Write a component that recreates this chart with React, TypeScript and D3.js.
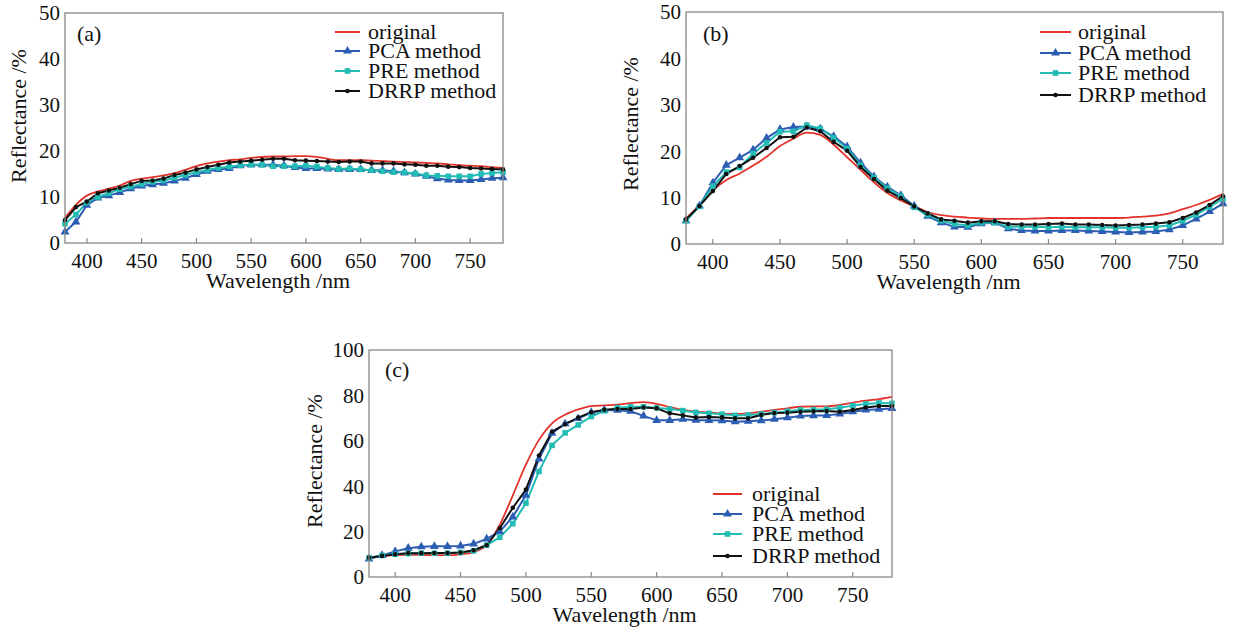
import React, { useEffect, useRef } from "react";
import * as d3 from "d3";

// wavelength samples (nm)
const wavelengths = [
  380, 390, 400, 410, 420, 430, 440, 450, 460, 470, 480, 490, 500, 510, 520,
  530, 540, 550, 560, 570, 580, 590, 600, 610, 620, 630, 640, 650, 660, 670,
  680, 690, 700, 710, 720, 730, 740, 750, 760, 770, 780,
];

const xTicks = [400, 450, 500, 550, 600, 650, 700, 750];
const yTicksSmall = [0, 10, 20, 30, 40, 50];
const yTicksLarge = [0, 20, 40, 60, 80, 100];

const seriesNames = ["original", "PCA method", "PRE method", "DRRP method"];

// panel (a)
const aOriginal = [
  5.5, 8.3, 10.3, 11.2, 11.8, 12.5, 13.5, 14.0, 14.3, 14.7, 15.2, 15.9, 16.7,
  17.3, 17.7, 18.0, 18.2, 18.5, 18.7, 18.8, 18.8, 18.9, 18.9, 18.7, 18.3, 18.0,
  18.0, 18.0, 17.9, 17.8, 17.7, 17.6, 17.5, 17.4, 17.3, 17.1, 16.9, 16.8, 16.7,
  16.5, 16.3,
];
const aPCA = [
  2.4, 4.6, 8.2, 9.8, 10.3, 11.0, 11.8, 12.4, 12.7, 13.0, 13.5, 14.1, 14.9,
  15.6, 16.0, 16.2, 16.8, 17.0, 17.0, 17.0, 16.8, 16.4, 16.2, 16.2, 16.1, 16.0,
  16.0, 16.0, 15.8, 15.8, 15.6, 15.3, 15.0, 14.5, 14.0, 13.7, 13.6, 13.6, 13.8,
  14.1, 14.2,
];
const aPRE = [
  4.2, 6.2, 8.8, 10.0, 10.8, 11.7, 12.3, 12.8, 13.3, 13.6, 14.2, 14.8, 15.4,
  15.9, 16.3, 16.6, 16.9, 17.0, 17.0, 16.7, 16.7, 16.7, 16.8, 16.6, 16.3, 16.1,
  16.2, 16.0, 15.8, 15.6, 15.4, 15.3, 15.1, 14.7, 14.6, 14.5, 14.5, 14.5, 15.0,
  15.2, 15.4,
];
const aDRRP = [
  5.0, 7.8, 9.0, 10.8, 11.4, 12.0, 12.8, 13.5, 13.6, 14.0, 14.8, 15.3, 16.0,
  16.5, 17.0, 17.5, 17.7, 17.9, 18.1, 18.3, 18.3, 18.0, 17.9, 17.8, 17.7, 17.6,
  17.7, 17.7, 17.3, 17.3, 17.3, 17.1, 17.0, 16.8, 16.8, 16.6, 16.5, 16.3, 16.2,
  16.1, 16.0,
];

// panel (b)
const bOriginal = [
  5.5, 8.3, 11.5, 13.8, 15.2, 16.9, 18.8, 21.1, 22.7, 24.0, 23.5, 21.4, 18.7,
  16.0, 13.3, 11.0, 9.4, 8.1, 6.9, 6.2, 5.9, 5.7, 5.5, 5.4, 5.4, 5.4, 5.5, 5.6,
  5.6, 5.6, 5.6, 5.6, 5.6, 5.7, 5.9, 6.1, 6.6, 7.5, 8.4, 9.5, 10.8,
];
const bPCA = [
  5.0, 8.2, 13.2, 17.0, 18.6, 20.3, 22.8, 24.7, 25.2, 25.3, 24.8, 23.2, 21.0,
  17.5, 14.5, 12.3, 10.5, 8.2, 6.0, 4.6, 3.7, 3.6, 4.4, 4.6, 3.3, 2.9, 2.8, 2.8,
  2.9, 2.9, 2.8, 2.7, 2.6, 2.5, 2.6, 2.7, 3.1, 4.0, 5.4, 7.0, 8.7,
];
const bPRE = [
  5.0, 8.1, 12.5, 15.5, 16.5, 19.5, 21.8, 24.2, 24.3, 25.6, 24.9, 22.9, 20.6,
  17.0, 14.3, 12.0, 10.3, 7.9, 6.3, 5.0, 4.3, 4.0, 4.6, 4.6, 3.7, 3.7, 3.7, 3.6,
  3.7, 3.6, 3.6, 3.6, 3.5, 3.5, 3.6, 3.7, 4.0, 5.0, 6.3, 8.0, 9.7,
];
const bDRRP = [
  5.3, 8.2, 11.4, 15.1, 16.8, 18.6, 20.7, 23.0, 23.1, 25.1, 24.3, 22.0, 20.1,
  16.6, 14.0, 11.5, 9.9, 8.1, 6.6, 5.3, 5.0, 4.6, 4.9, 4.9, 4.3, 4.2, 4.2, 4.3,
  4.4, 4.2, 4.2, 4.1, 4.0, 4.1, 4.2, 4.4, 4.7, 5.6, 6.8, 8.4, 10.3,
];

// panel (c)
const cOriginal = [
  8.5, 9.2, 9.7, 9.8, 9.8, 9.6, 9.6, 10.0, 11.0, 14.0, 23.0, 36.0, 49.5, 60.4,
  67.7, 71.5, 73.8, 75.3, 75.6, 75.9, 76.6, 77.0, 76.3, 74.8, 73.6, 72.8, 72.5,
  72.0, 71.8, 72.1, 72.8, 73.6, 74.3, 75.0, 75.2, 75.2, 75.8, 76.8, 77.7, 78.4,
  79.4,
];
const cPCA = [
  8.0, 9.5, 11.3, 12.7, 13.3, 13.5, 13.5, 13.7, 14.6, 16.8, 20.0, 26.5, 36.0,
  52.0, 63.3, 67.5, 69.8, 72.5, 73.5, 73.5, 73.0, 71.0, 69.0, 69.0, 69.5, 69.1,
  69.0, 68.9, 68.4, 68.6, 68.9, 69.5, 70.2, 70.9, 71.1, 71.2, 71.8, 72.8, 73.6,
  73.9, 74.2,
];
const cPRE = [
  8.5, 9.5, 10.0, 10.3, 10.5, 10.5, 10.5, 10.8, 11.5, 14.0, 17.5, 23.5, 32.5,
  46.5, 58.0, 63.5, 67.0, 70.7, 73.2, 74.6, 75.0, 75.0, 74.5, 74.0, 73.3, 72.5,
  72.1, 71.7, 71.2, 71.4, 71.8, 72.4, 73.0, 73.6, 73.7, 73.9, 74.6, 75.5, 76.2,
  76.7, 76.5,
];
const cDRRP = [
  8.5, 9.3, 10.0, 10.5, 10.5, 10.6, 10.6, 10.8, 11.8, 14.0, 21.5, 30.5, 38.5,
  53.5, 64.0, 67.3, 70.2, 72.6, 73.7, 74.0, 74.0, 74.7, 74.3, 72.1, 71.2, 70.3,
  70.5, 70.3, 69.9, 69.9, 71.4, 72.2, 72.4, 72.8, 73.0, 73.1, 72.8, 73.6, 74.7,
  75.3, 75.3,
];

const colors = ["#e2332b", "#2c5db3", "#22bcb4", "#111111"];
const markers = ["none", "triangle", "square", "dot"];

const panels = [
  {
    tag: "(a)", series: [aOriginal, aPCA, aPRE, aDRRP], yMax: 50, yTicks: yTicksSmall,
    left: 65, right: 503, top: 13, bottom: 243,
    tagX: 77, tagY: 41, yLabelX: 26, yLabelY: 116,
    legLine: [335, 360], legText: 368, legRows: [32, 51, 71, 91],
  },
  {
    tag: "(b)", series: [bOriginal, bPCA, bPRE, bDRRP], yMax: 50, yTicks: yTicksSmall,
    left: 686, right: 1223, top: 12, bottom: 244,
    tagX: 703, tagY: 41, yLabelX: 638, yLabelY: 124,
    legLine: [1040, 1071], legText: 1078, legRows: [32, 53, 73, 95],
  },
  {
    tag: "(c)", series: [cOriginal, cPCA, cPRE, cDRRP], yMax: 100, yTicks: yTicksLarge,
    left: 369, right: 892, top: 350, bottom: 577,
    tagX: 385, tagY: 377, yLabelX: 322, yLabelY: 461,
    legLine: [713, 742], legText: 752, legRows: [494, 514, 534, 556],
  },
];

const FONT = "'Liberation Serif', 'Times New Roman', serif";

function drawMarker(g: any, kind: string, x: number, y: number, color: string) {
  if (kind === "triangle") {
    g.append("path")
      .attr("d", d3.symbol().type(d3.symbolTriangle).size(34)())
      .attr("transform", `translate(${x},${y})`)
      .attr("fill", color);
  } else if (kind === "square") {
    g.append("rect")
      .attr("x", x - 2.8).attr("y", y - 2.8)
      .attr("width", 5.6).attr("height", 5.6)
      .attr("fill", color);
  } else if (kind === "dot") {
    g.append("circle").attr("cx", x).attr("cy", y).attr("r", 2.3).attr("fill", color);
  }
}

const App = () => {
  const svgRef = useRef<SVGSVGElement>(null);

  useEffect(() => {
    const svg = d3.select(svgRef.current);
    svg.selectAll("*").remove();

    panels.forEach((p) => {
      const x = d3.scaleLinear().domain([380, 780]).range([p.left, p.right]);
      const y = d3.scaleLinear().domain([0, p.yMax]).range([p.bottom, p.top]);
      const g = svg.append("g");

      // data lines
      p.series.forEach((vals, i) => {
        const pts = wavelengths.map((w, k) => [x(w), y(vals[k])] as [number, number]);
        const line = i === 0 ? d3.line().curve(d3.curveMonotoneX) : d3.line();
        g.append("path")
          .attr("d", line(pts))
          .attr("fill", "none")
          .attr("stroke", colors[i])
          .attr("stroke-width", i === 0 ? 1.8 : 2)
          .attr("stroke-linejoin", "round");
      });
      // markers drawn after so lines stay underneath
      p.series.forEach((vals, i) => {
        if (markers[i] === "none") return;
        wavelengths.forEach((w, k) => drawMarker(g, markers[i], x(w), y(vals[k]), colors[i]));
      });

      // frame
      g.append("rect")
        .attr("x", p.left).attr("y", p.top)
        .attr("width", p.right - p.left).attr("height", p.bottom - p.top)
        .attr("fill", "none").attr("stroke", "#8c8883").attr("stroke-width", 1.3);

      // x ticks (inward)
      xTicks.forEach((t) => {
        g.append("line")
          .attr("x1", x(t)).attr("x2", x(t))
          .attr("y1", p.bottom).attr("y2", p.bottom - 5)
          .attr("stroke", "#8c8883").attr("stroke-width", 1.2);
        g.append("text")
          .attr("x", x(t)).attr("y", p.bottom + 25)
          .attr("text-anchor", "middle")
          .style("font-family", FONT).style("font-size", "21px").attr("fill", "#111")
          .text(t);
      });

      // y tick labels
      p.yTicks.forEach((t) => {
        g.append("text")
          .attr("x", p.left - 5).attr("y", y(t)).attr("dy", "0.35em")
          .attr("text-anchor", "end")
          .style("font-family", FONT).style("font-size", "21px").attr("fill", "#111")
          .text(t);
      });

      // axis titles
      g.append("text")
        .attr("x", (p.left + p.right) / 2 - 6).attr("y", p.bottom + 45)
        .attr("text-anchor", "middle")
        .style("font-family", FONT).style("font-size", "22px").attr("fill", "#111")
        .text("Wavelength /nm");
      g.append("text")
        .attr("transform", `translate(${p.yLabelX},${p.yLabelY}) rotate(-90)`)
        .attr("text-anchor", "middle")
        .style("font-family", FONT).style("font-size", "22px").attr("fill", "#111")
        .text("Reflectance /%");

      // panel tag
      g.append("text")
        .attr("x", p.tagX).attr("y", p.tagY)
        .style("font-family", FONT).style("font-size", "22px").attr("fill", "#111")
        .text(p.tag);

      // legend
      seriesNames.forEach((name, i) => {
        const ry = p.legRows[i];
        g.append("line")
          .attr("x1", p.legLine[0]).attr("x2", p.legLine[1])
          .attr("y1", ry).attr("y2", ry)
          .attr("stroke", colors[i]).attr("stroke-width", 2);
        drawMarker(g, markers[i], (p.legLine[0] + p.legLine[1]) / 2, ry, colors[i]);
        g.append("text")
          .attr("x", p.legText).attr("y", ry).attr("dy", "0.33em")
          .style("font-family", FONT).style("font-size", "22px").attr("fill", "#111")
          .text(name);
      });
    });

    return () => {
      svg.selectAll("*").remove();
    };
  }, []);

  return (
    <div style={{ position: "absolute", left: 0, top: 0, background: "#fff" }}>
      <svg ref={svgRef} width={1233} height={630} style={{ display: "block" }}></svg>
    </div>
  );
};

export default App;
